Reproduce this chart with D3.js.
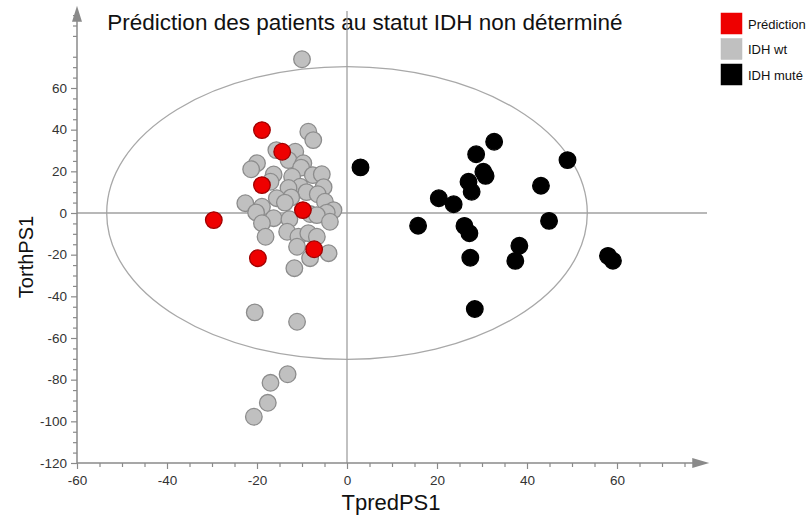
<!DOCTYPE html>
<html><head><meta charset="utf-8">
<script src="https://cdn.jsdelivr.net/npm/d3@7"></script>
<style>body{margin:0;background:#fff}svg{display:block}</style>
</head><body><svg id="c" width="809" height="515"></svg>
<script>
const title = "Prédiction des patients au statut IDH non déterminé";
const xLabel = "TpredPS1";
const yLabel = "TorthPS1";
const legendNames = ["Prédiction", "IDH wt", "IDH muté"];
const xTicks = [-60,-40,-20,0,20,40,60];
const yTicks = [60,40,20,0,-20,-40,-60,-80,-100,-120];
const ellipseRadii = [53.4, 70.3];

const wtPoints = [
[-10.0,73.8],[-8.6,39.0],[-7.5,35.0],[-15.7,30.2],[-11.5,29.4],
[-13.0,25.4],[-9.7,23.9],[-20.0,23.9],[-21.3,21.0],[-10.2,21.8],
[-16.3,18.5],[-12.2,17.4],[-7.6,18.2],[-5.6,18.6],
[-17.0,15.0],[-10.4,12.6],[-13.0,12.0],[-5.2,12.4],
[-9.0,10.0],[-6.5,9.0],[-15.6,7.1],[-12.4,7.5],
[-22.6,4.7],[-18.9,3.0],[-13.8,5.0],[-4.9,5.4],
[-3.0,1.4],[-4.5,0.2],[-8.2,-0.5],[-6.7,-1.0],[-20.2,0.3],
[-16.3,-2.5],[-12.8,-3.0],[-3.8,-4.2],[-18.9,-4.9],
[-18.1,-11.4],[-13.3,-9.0],[-10.8,-11.4],[-8.6,-9.7],[-6.7,-11.4],
[-11.1,-16.2],[-4.1,-19.3],[-8.2,-21.7],[-11.7,-26.5],
[-20.5,-47.7],[-11.1,-52.2],[-13.2,-77.4],[-17.0,-81.5],[-17.6,-91.1],[-20.7,-97.8]
];
const mutPoints = [
[3.0,21.9],[32.7,34.2],[28.7,28.2],[30.3,19.8],[30.8,17.8],[27.0,15.0],
[27.7,10.2],[20.4,7.1],[23.7,4.2],[49.0,25.4],[43.1,13.1],[15.8,-6.1],
[26.1,-6.2],[27.2,-9.7],[44.9,-3.8],[38.3,-15.7],[37.4,-23.0],[27.4,-21.5],
[58.0,-20.6],[59.1,-22.9],[28.4,-46.1]
];
const predPoints = [
[-18.9,39.8],[-14.4,29.4],[-18.9,13.4],[-9.8,1.4],[-29.6,-3.4],[-7.3,-17.4],[-19.8,-21.7]
];

const svg = d3.select("#c");
const x = d3.scaleLinear().domain([-60, 60]).range([77, 617]);
const y = d3.scaleLinear().domain([-120, 60]).range([463, 88]);
const axisCol = "#8a8a8a";
const sans = "Liberation Sans, Arial, sans-serif";
const fmt = d => String(d);

// title
svg.append("text").attr("x", 365).attr("y", 30).attr("text-anchor","middle")
  .attr("font-family", sans).attr("font-size",22.5).attr("fill","#111").text(title);

// ellipse
svg.append("ellipse").attr("cx", x(0)).attr("cy", y(0))
  .attr("rx", x(ellipseRadii[0]) - x(0)).attr("ry", y(0) - y(ellipseRadii[1]))
  .attr("fill","none").attr("stroke","#a8a8a8").attr("stroke-width",1.3);

// zero lines
svg.append("line").attr("x1", x(-60)).attr("x2", x(80)).attr("y1", y(0)).attr("y2", y(0))
  .attr("stroke","#a0a0a0").attr("stroke-width",1.3);
svg.append("line").attr("x1", x(0)).attr("x2", x(0)).attr("y1", y(97)).attr("y2", y(-120))
  .attr("stroke","#a0a0a0").attr("stroke-width",1.3);

// axes
const xMinor = d3.range(-60, 80, 5).filter(v => v % 20 !== 0);
const yMinor = d3.range(-120, 100, 5).filter(v => v % 20 !== 0);
const gx = svg.append("g").attr("transform", `translate(0,${y(-120)})`);
gx.call(d3.axisBottom(x).tickValues(xTicks).tickSize(6).tickPadding(6).tickFormat(fmt));
const gxm = svg.append("g").attr("transform", `translate(0,${y(-120)})`);
gxm.call(d3.axisBottom(x).tickValues(xMinor).tickSize(4).tickFormat(""));
const gy = svg.append("g").attr("transform", `translate(${x(-60)},0)`);
gy.call(d3.axisLeft(y).tickValues(yTicks).tickSize(6).tickPadding(4).tickFormat(fmt));
const gym = svg.append("g").attr("transform", `translate(${x(-60)},0)`);
gym.call(d3.axisLeft(y).tickValues(yMinor).tickSize(4).tickFormat(""));
[gx,gxm,gy,gym].forEach(g => {
  g.select(".domain").remove();
  g.selectAll("line").attr("stroke", axisCol).attr("stroke-width",1.2);
  g.selectAll("text").attr("font-family", sans).attr("font-size",13.5).attr("fill","#333");
});
// axis lines with arrows
svg.append("line").attr("x1", x(-60)).attr("x2", x(77)).attr("y1", y(-120)).attr("y2", y(-120))
  .attr("stroke", axisCol).attr("stroke-width",1.5);
svg.append("line").attr("x1", x(-60)).attr("x2", x(-60)).attr("y1", y(-120)).attr("y2", y(95))
  .attr("stroke", axisCol).attr("stroke-width",1.5);
const xe = x(80.5), ye = y(-120);
svg.append("path").attr("d", `M${xe},${ye} L${xe-17},${ye-5} L${xe-17},${ye+5} Z`).attr("fill", axisCol);
const yx = x(-60), yy = y(99.5);
svg.append("path").attr("d", `M${yx},${yy} L${yx-5},${yy+16} L${yx+5},${yy+16} Z`).attr("fill", axisCol);

// axis titles
svg.append("text").attr("x", 391).attr("y", 509.5).attr("text-anchor","middle")
  .attr("font-family", sans).attr("font-size",22).attr("fill","#111").text(xLabel);
svg.append("text").attr("transform", `translate(33,257) rotate(-90)`).attr("text-anchor","middle")
  .attr("font-family", sans).attr("font-size",20).attr("fill","#111").text(yLabel);

// points
const r = 8.3;
function draw(data, fill, stroke) {
  svg.append("g").selectAll("circle").data(data).join("circle")
    .attr("cx", d => x(d[0])).attr("cy", d => y(d[1])).attr("r", r)
    .attr("fill", fill).attr("stroke", stroke).attr("stroke-width", 1.3);
}
draw(wtPoints, "#c0c0c0", "#8c8c8c");
draw(mutPoints, "#000000", "#000000");
draw(predPoints, "#ee0000", "#a00000");

// legend
const legColors = ["#ee0000", "#c0c0c0", "#000000"];
const leg = svg.append("g");
legendNames.forEach((n, i) => {
  leg.append("rect").attr("x", 721).attr("y", 13 + i * 25.5).attr("width", 21).attr("height", 21)
    .attr("fill", legColors[i]).attr("stroke", i === 1 ? "#bdbdbd" : legColors[i]).attr("stroke-width", 0.5);
  leg.append("text").attr("x", 748).attr("y", 28.5 + i * 25.5)
    .attr("font-family", sans).attr("font-size",13).attr("fill","#111").text(n);
});
</script></body></html>
